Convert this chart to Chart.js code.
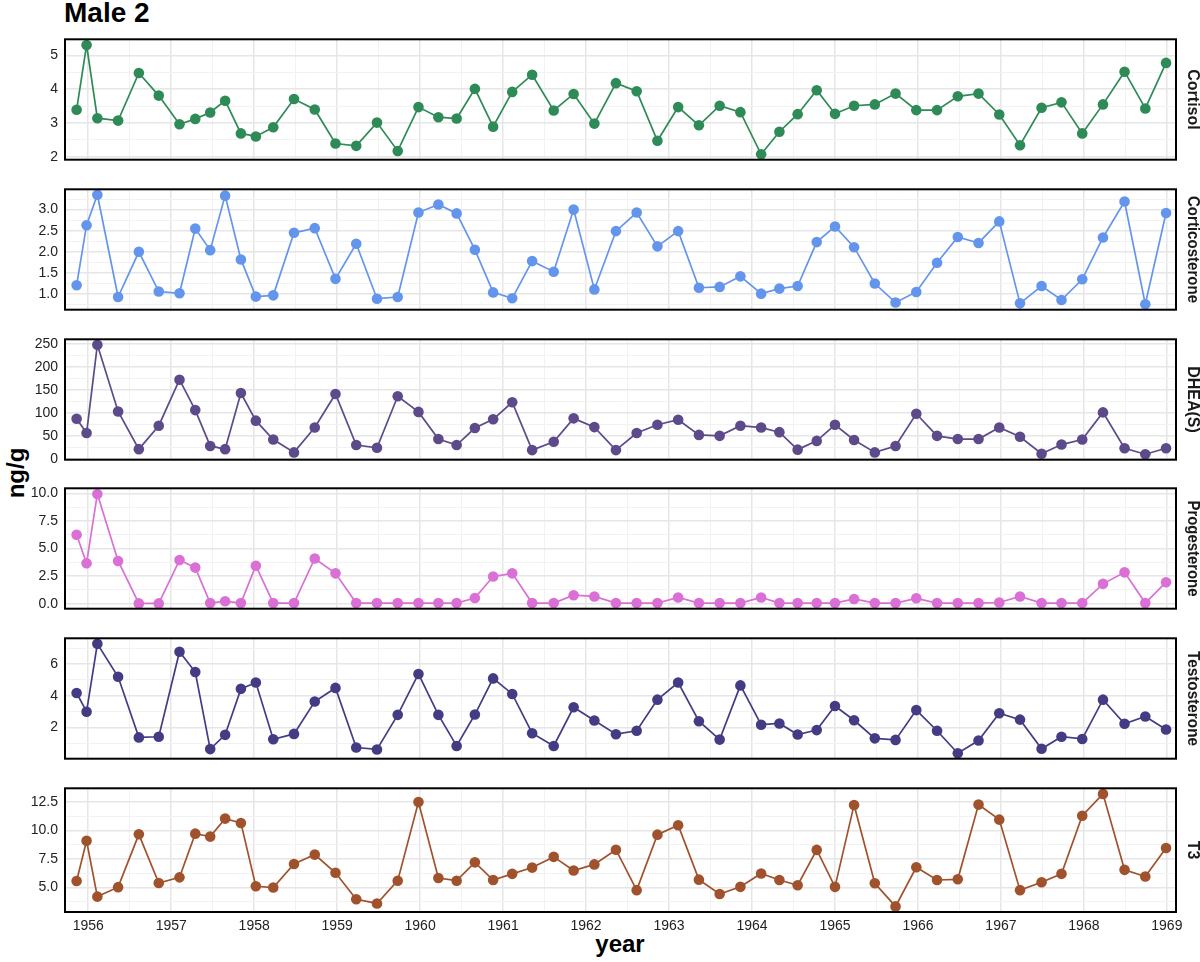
<!DOCTYPE html>
<html>
<head>
<meta charset="utf-8">
<script src="https://cdn.jsdelivr.net/npm/chart.js@4.4.1/dist/chart.umd.min.js"></script>
<style>
  html,body{margin:0;padding:0;background:#fff;}
  body{width:1200px;height:962px;position:relative;overflow:hidden;font-family:"Liberation Sans",Arial,Helvetica,sans-serif;}
  .panel{position:absolute;left:0;width:1200px;}
  #title{position:absolute;left:64px;top:-1px;font-weight:bold;font-size:28px;line-height:28px;color:#000;white-space:nowrap;}
  #ylab{position:absolute;left:16px;top:473px;font-weight:bold;font-size:24px;line-height:24px;color:#000;white-space:nowrap;transform:translate(-50%,-50%) rotate(-90deg);}
  #xlab{position:absolute;left:620px;top:932px;font-weight:bold;font-size:24px;line-height:24px;color:#000;white-space:nowrap;transform:translateX(-50%);}
</style>
</head>
<body>
<div id="title">Male 2</div>
<div id="ylab">ng/g</div>
<div id="xlab">year</div>
<script>
// ---------------- DATA ----------------
const dates = [1955.86, 1955.98, 1956.11, 1956.36, 1956.61, 1956.85, 1957.10, 1957.29, 1957.47, 1957.65,
  1957.84, 1958.02, 1958.23, 1958.48, 1958.73, 1958.98, 1959.23, 1959.48, 1959.73, 1959.98,
  1960.22, 1960.44, 1960.66, 1960.88, 1961.11, 1961.35, 1961.61, 1961.85, 1962.10, 1962.36,
  1962.61, 1962.86, 1963.11, 1963.36, 1963.61, 1963.86, 1964.11, 1964.33, 1964.55, 1964.78,
  1965.00, 1965.23, 1965.48, 1965.73, 1965.98, 1966.23, 1966.48, 1966.73, 1966.98, 1967.23,
  1967.49, 1967.73, 1967.98, 1968.23, 1968.49, 1968.74, 1968.99];

const cortisol = [3.39, 5.31, 3.14, 3.07, 4.48, 3.81, 2.96, 3.12, 3.31, 3.66, 2.69, 2.60, 2.87, 3.71, 3.40,
  2.39, 2.32, 3.01, 2.17, 3.47, 3.17, 3.13, 4.01, 2.89, 3.92, 4.43, 3.37, 3.86, 2.98,
  4.18, 3.94, 2.47, 3.47, 2.93, 3.51, 3.32, 2.07, 2.74, 3.26, 3.97, 3.27, 3.51, 3.55, 3.87,
  3.38, 3.38, 3.79, 3.87, 3.25, 2.34, 3.45, 3.61, 2.69, 3.55, 4.52, 3.43, 4.78];

const corticosterone = [1.21, 2.63, 3.35, 0.93, 2.00, 1.06, 1.02, 2.55, 2.04, 3.33, 1.82, 0.94, 0.97, 2.45, 2.56,
  1.36, 2.19, 0.89, 0.93, 2.93, 3.12, 2.91, 2.05, 1.04, 0.90, 1.78, 1.53, 3.00, 1.11,
  2.49, 2.93, 2.13, 2.49, 1.15, 1.17, 1.42, 1.01, 1.13, 1.19, 2.23, 2.60, 2.11, 1.25, 0.80,
  1.05, 1.74, 2.35, 2.21, 2.72, 0.78, 1.19, 0.86, 1.35, 2.34, 3.19, 0.76, 2.92];

const dhea = [87, 56, 248, 103, 21, 72, 172, 106, 28, 21, 143, 83, 42, 14, 68,
  141, 30, 24, 136, 102, 43, 30, 67, 86, 123, 19, 37, 88, 69,
  19, 56, 74, 85, 52, 50, 72, 68, 58, 20, 39, 74, 41, 14, 28,
  98, 50, 43, 43, 68, 48, 11, 31, 42, 101, 23, 10, 23];

const progesterone = [6.25, 3.67, 9.94, 3.87, 0.03, 0.03, 3.95, 3.27, 0.06, 0.23, 0.06, 3.44, 0.06, 0.06, 4.10,
  2.75, 0.06, 0.06, 0.06, 0.06, 0.06, 0.06, 0.52, 2.46, 2.75, 0.06, 0.06, 0.77, 0.66,
  0.06, 0.06, 0.06, 0.57, 0.06, 0.06, 0.06, 0.57, 0.06, 0.06, 0.06, 0.06, 0.43, 0.06, 0.06,
  0.49, 0.06, 0.06, 0.06, 0.11, 0.66, 0.06, 0.06, 0.06, 1.80, 2.84, 0.06, 1.95];

const testosterone = [4.18, 3.00, 7.28, 5.20, 1.38, 1.42, 6.78, 5.50, 0.64, 1.54, 4.44, 4.84, 1.26, 1.60, 3.64,
  4.50, 0.74, 0.62, 2.80, 5.38, 2.80, 0.84, 2.82, 5.10, 4.12, 1.64, 0.84, 3.28, 2.44,
  1.58, 1.80, 3.76, 4.84, 2.40, 1.24, 4.66, 2.18, 2.26, 1.56, 1.84, 3.36, 2.46, 1.32, 1.22,
  3.10, 1.80, 0.38, 1.18, 2.90, 2.50, 0.66, 1.42, 1.28, 3.76, 2.24, 2.70, 1.88];

const t3 = [5.57, 9.10, 4.20, 5.03, 9.67, 5.40, 5.89, 9.73, 9.47, 11.05, 10.67, 5.11, 5.00, 7.06, 7.89,
  6.29, 3.97, 3.60, 5.60, 12.50, 5.83, 5.60, 7.21, 5.66, 6.20, 6.75, 7.69, 6.49, 7.03,
  8.32, 4.77, 9.64, 10.47, 5.69, 4.43, 5.06, 6.23, 5.66, 5.20, 8.30, 5.06, 12.25, 5.37, 3.34,
  6.78, 5.66, 5.72, 12.28, 10.96, 4.77, 5.46, 6.20, 11.30, 13.22, 6.55, 5.97, 8.47];

const panelNames = ["Cortisol", "Corticosterone", "DHEA(S)", "Progesterone", "Testosterone", "T3"];
const panelSeries = [cortisol, corticosterone, dhea, progesterone, testosterone, t3];
const panelColors = ["#2e8b57", "#6495ed", "#5c4a8b", "#da70d6", "#433c84", "#a0522d"];

// y tick values (major, labelled) and minor grid values
const cortisolTicks = [2, 3, 4, 5];             const cortisolMinor = [2.5, 3.5, 4.5];
const corticoTicks = [1.0, 1.5, 2.0, 2.5, 3.0];  const corticoMinor = [0.75, 1.25, 1.75, 2.25, 2.75, 3.25];
const dheaTicks = [0, 50, 100, 150, 200, 250];   const dheaMinor = [25, 75, 125, 175, 225];
const progTicks = [0, 2.5, 5, 7.5, 10];          const progMinor = [1.25, 3.75, 6.25, 8.75];
const testoTicks = [2, 4, 6];                    const testoMinor = [1, 3, 5, 7];
const t3Ticks = [5, 7.5, 10, 12.5];              const t3Minor = [3.75, 6.25, 8.75, 11.25];
const panelTicks = [cortisolTicks, corticoTicks, dheaTicks, progTicks, testoTicks, t3Ticks];
const panelMinor = [cortisolMinor, corticoMinor, dheaMinor, progMinor, testoMinor, t3Minor];
const panelDecimals = [0, 1, 0, 1, 0, 1];
const yLimits = [[1.91, 5.48], [0.63, 3.48], [-1.9, 259.9], [-0.45, 10.45], [0.035, 7.63], [2.85, 13.71]];

const xYears = [1956, 1957, 1958, 1959, 1960, 1961, 1962, 1963, 1964, 1965, 1966, 1967, 1968, 1969];
const xMinor = [1956.5, 1957.5, 1958.5, 1959.5, 1960.5, 1961.5, 1962.5, 1963.5, 1964.5, 1965.5, 1966.5, 1967.5, 1968.5];
const xLimits = [1955.72, 1969.11];

// -------------- LAYOUT / STYLE --------------
const PLOT_LEFT = 65, PLOT_RIGHT = 1176, PANEL_H = 127;
const panelTop = [36, 186, 336, 485, 635, 785];
const XAXIS_H = 28;
const stripMax = [null, 107, 80, 96, 95, null];
const FONT = '"Liberation Sans", Arial, Helvetica, sans-serif';
const MAJOR_GRID = '#e6e6e6', MINOR_GRID = '#f2f2f2';

function isInt(v){ return Math.abs(v - Math.round(v)) < 1e-6; }
function noPad(s){ s.paddingTop = 0; s.paddingBottom = 0; s.paddingLeft = 0; s.paddingRight = 0; }

const framePlugin = {
  id: 'frame',
  afterDraw(chart, args, opts) {
    const {ctx, chartArea: a} = chart;
    ctx.save();
    ctx.strokeStyle = '#000';
    ctx.lineWidth = 2;
    ctx.strokeRect(a.left, a.top, a.right - a.left, a.bottom - a.top);
    // strip label
    ctx.translate(a.right + 16, (a.top + a.bottom) / 2);
    ctx.rotate(Math.PI / 2);
    ctx.fillStyle = '#1a1a1a';
    ctx.font = 'bold 16px ' + FONT;
    ctx.textAlign = 'center';
    ctx.textBaseline = 'middle';
    if (opts.maxW) ctx.fillText(opts.label, 0, 0, opts.maxW);
    else ctx.fillText(opts.label, 0, 0);
    ctx.restore();
  }
};

panelNames.forEach((name, i) => {
  const last = i === panelNames.length - 1;
  const h = PANEL_H + 4 + (last ? XAXIS_H : 0);
  const div = document.createElement('div');
  div.className = 'panel';
  div.style.top = (panelTop[i] - 2) + 'px';
  div.style.height = h + 'px';
  const cv = document.createElement('canvas');
  cv.width = 1200; cv.height = h;
  cv.style.width = '1200px'; cv.style.height = h + 'px';
  div.appendChild(cv);
  document.body.appendChild(div);

  const majors = panelTicks[i];
  const allY = majors.concat(panelMinor[i]).sort((a, b) => a - b);
  const majorSet = majors.map(v => v.toFixed(4));
  const isMajorY = v => majorSet.indexOf(v.toFixed(4)) >= 0;
  const allX = xYears.concat(xMinor).sort((a, b) => a - b);

  new Chart(cv, {
    type: 'line',
    data: {
      datasets: [{
        data: dates.map((d, k) => ({x: d, y: panelSeries[i][k]})),
        borderColor: panelColors[i],
        backgroundColor: panelColors[i],
        pointBackgroundColor: panelColors[i],
        pointBorderColor: panelColors[i],
        pointBorderWidth: 0,
        pointRadius: 5.3,
        borderWidth: 1.7,
        tension: 0,
        fill: false,
        clip: false
      }]
    },
    options: {
      responsive: false,
      animation: false,
      devicePixelRatio: 1,
      layout: {padding: {left: 0, right: 1200 - PLOT_RIGHT, top: 2, bottom: 2}},
      plugins: {
        legend: {display: false},
        tooltip: {enabled: false},
        frame: {label: name, maxW: stripMax[i]}
      },
      scales: {
        x: {
          type: 'linear',
          min: xLimits[0], max: xLimits[1],
          afterBuildTicks: s => { s.ticks = allX.map(v => ({value: v})); },
          afterFit: s => { s.height = last ? XAXIS_H : 0; noPad(s); },
          border: {display: false},
          grid: {
            drawTicks: false,
            color: c => (c.tick && isInt(c.tick.value)) ? MAJOR_GRID : MINOR_GRID,
            lineWidth: c => (c.tick && isInt(c.tick.value)) ? 1.5 : 1
          },
          ticks: {
            display: last,
            autoSkip: false,
            maxRotation: 0,
            padding: 6,
            color: '#222',
            font: {family: FONT, size: 14},
            callback: v => isInt(v) ? String(Math.round(v)) : ''
          }
        },
        y: {
          type: 'linear',
          min: yLimits[i][0], max: yLimits[i][1],
          afterBuildTicks: s => { s.ticks = allY.map(v => ({value: v})); },
          afterFit: s => { s.width = PLOT_LEFT; noPad(s); },
          border: {display: false},
          grid: {
            drawTicks: false,
            color: c => (c.tick && isMajorY(c.tick.value)) ? MAJOR_GRID : MINOR_GRID,
            lineWidth: c => (c.tick && isMajorY(c.tick.value)) ? 1.5 : 1
          },
          ticks: {
            autoSkip: false,
            padding: 7,
            color: '#222',
            font: {family: FONT, size: 14},
            callback: v => isMajorY(v) ? v.toFixed(panelDecimals[i]) : ''
          }
        }
      }
    },
    plugins: [framePlugin]
  });
});
</script>
</body>
</html>
